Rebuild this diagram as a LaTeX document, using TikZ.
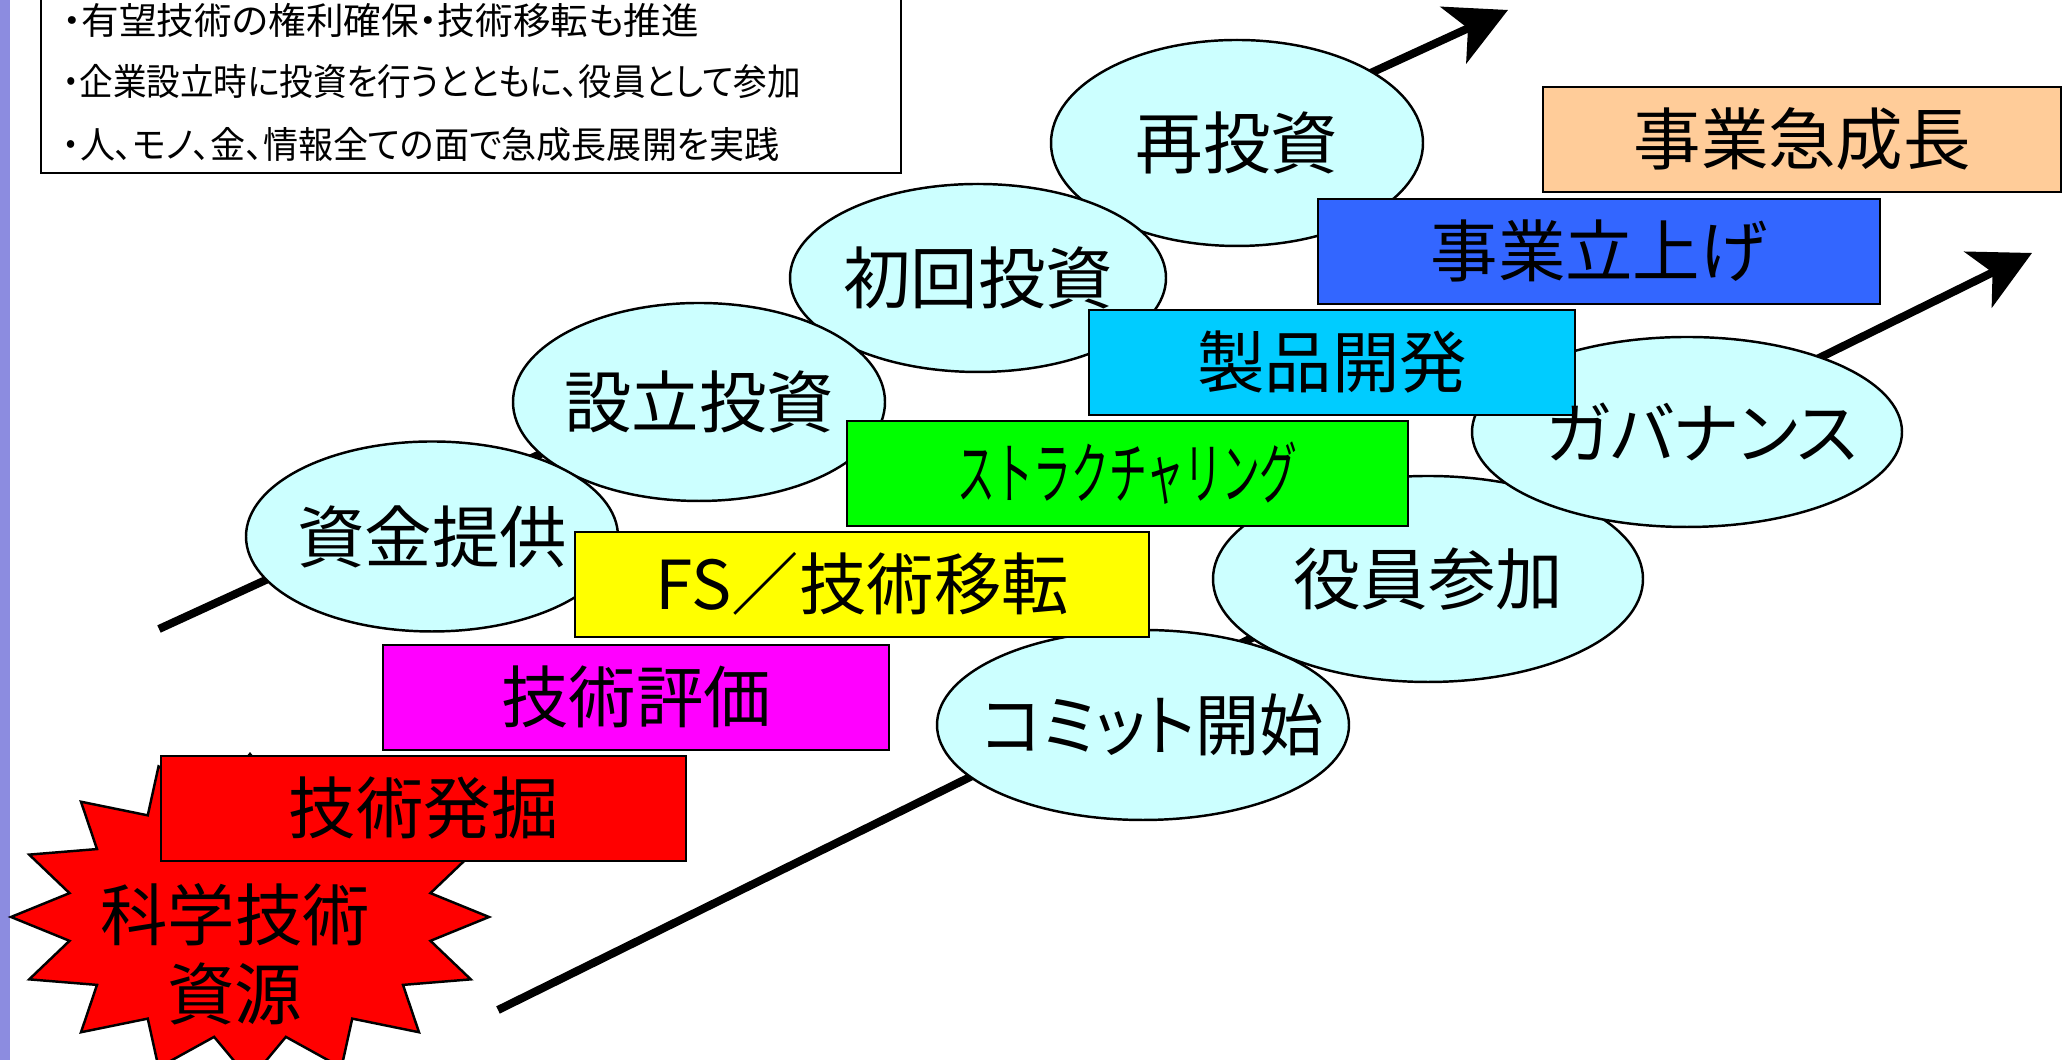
\documentclass[tikz,border=0pt]{standalone}
\usepackage{fontspec}
\usepackage{graphicx}
\setmainfont{Noto Sans CJK JP}
\newfontfamily\kanafont{Noto Sans CJK JP}[RawFeature=+palt]
\usetikzlibrary{arrows.meta,shapes.geometric}
\definecolor{bubblecyan}{HTML}{CCFFFF}
\definecolor{digred}{HTML}{FF0000}
\definecolor{evalmag}{HTML}{FF00FF}
\definecolor{fsyellow}{HTML}{FFFF00}
\definecolor{structgreen}{HTML}{00FF00}
\definecolor{devcyan}{HTML}{00CCFF}
\definecolor{launchblue}{HTML}{3366FF}
\definecolor{groworange}{HTML}{FFCC99}
\definecolor{barpurple}{HTML}{8C8CE0}
\tikzset{
    bubble/.style={ellipse,draw,line width=0.7pt,fill=bubblecyan,inner sep=0pt},
    stage/.style={rectangle,draw,line width=0.7pt,inner sep=0pt,minimum height=1.05cm,anchor=south west},
    flow/.style={line width=2.3pt,-{Stealth[length=6mm,width=6.2mm,inset=1.6mm]}},
    big/.style={font=\fontsize{19.2}{23}\selectfont},
    bigkana/.style={font=\kanafont\fontsize{19.2}{23}\selectfont}
}
\begin{document}
\begin{tikzpicture}
        \useasboundingbox (0,0) rectangle (20.72,10.60);
        \fill[barpurple] (0,0) rectangle (0.10,10.60);
        %% Arrows
        \coordinate (upS) at (1.59,4.31);
        \coordinate (upE) at (15.08,10.50);
        \coordinate (loS) at (4.98,0.50);
        \coordinate (loE) at (20.32,8.07);
        \draw[flow] (upS) -- (upE);
        \draw[flow] (loS) -- (loE);
        %% Source star
        \draw[fill=digred,line width=0.7pt,shift={(2.50,1.43)}] plot[samples at={0,...,31},variable=\k]
            ({cos(\k*11.25)*2.39*(1-0.23*mod(\k,2))},{sin(\k*11.25)*1.63*(1-0.25*mod(\k,2))}) -- cycle;
        %% Bubbles
        \foreach \n/\x/\y/\w/\h in {reinv/12.37/9.17/3.72/2.06,first/9.78/7.82/3.76/1.88,
                setup/6.99/6.58/3.72/1.98,fund/4.32/5.235/3.72/1.90,
                commit/11.43/3.35/4.12/1.90,board/14.28/4.81/4.30/2.06,gov/16.87/6.28/4.30/1.90}
            \node[bubble,minimum width=\w cm,minimum height=\h cm] (\n) at (\x,\y) {};
        %% Stages
        \foreach \n/\x/\y/\w/\c/\t in {dig/1.60/1.98/5.25/digred/技術発掘,
                eval/3.82/3.09/5.06/evalmag/技術評価,
                fs/5.74/4.22/5.74/fsyellow/{FS／技術移転},
                struct/8.46/5.33/5.61/structgreen/{\scalebox{0.56}[1]{ストラクチャリング}},
                dev/10.88/6.44/4.86/devcyan/製品開発,
                launch/13.17/7.55/5.62/launchblue/事業立上げ,
                grow/15.42/8.67/5.18/groworange/事業急成長}
            \node[stage,big,fill=\c,minimum width=\w cm] (\n) at (\x,\y) {\t};
        %% Bubble labels
        \foreach \n/\t in {reinv/再投資,first/初回投資,setup/設立投資,fund/資金提供,board/役員参加}
            \node[big] (\n-t) at (\n) {\t};
        \node[bigkana] (commit-t) at ([xshift=0.1cm]commit.center) {\scalebox{0.95}[1]{コミット開始}};
        \node[bigkana] (gov-t) at ([xshift=0.15cm]gov.center) {ガバナンス};
        \node[align=center,font=\fontsize{19.2}{22.4}\selectfont] (src) at (2.35,1.06) {科学技術\\資源};
        %% Notes
        \node[draw,line width=0.6pt,fill=white,inner sep=0pt,minimum width=8.60cm,minimum height=2cm,anchor=south west] (notes) at (0.40,8.86) {};
        \foreach \y/\s/\t [count=\i] in {10.40/1.02/{・有望技術の権利確保・技術移転も推進},
                9.78/0.91/{・企業設立時に投資を行うとともに、役員として参加},
                9.15/0.95/{・人、モノ、金、情報全ての面で急成長展開を実践}}
            \node[anchor=west,inner sep=0pt,font=\kanafont\fontsize{10.5}{12}\selectfont] (note\i) at (0.62,\y) {\scalebox{\s}[1]{\t}};
    \end{tikzpicture}
\end{document}
